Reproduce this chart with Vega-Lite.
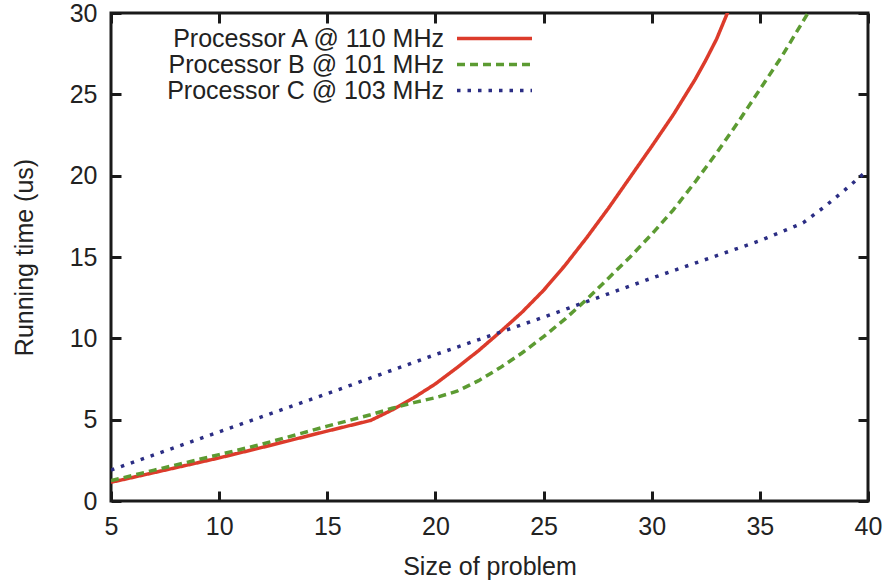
{
  "$schema": "https://vega.github.io/schema/vega-lite/v6.json",
  "width": 757,
  "height": 488,
  "autosize": "none",
  "padding": {"left": 111, "top": 13, "right": 20, "bottom": 80},
  "background": "white",
  "config": {
    "font": "Liberation Sans",
    "view": {"stroke": "#1a1a1a", "strokeWidth": 3},
    "axis": {
      "domain": false,
      "grid": false,
      "ticks": true,
      "tickSize": -10,
      "tickWidth": 3,
      "tickColor": "#1a1a1a",
      "labelFontSize": 25,
      "labelColor": "#222222",
      "labelFlush": false,
      "labelPadding": 23,
      "titleFontSize": 25,
      "titleFontWeight": "normal",
      "titleColor": "#222222"
    }
  },
  "data": {
    "values": [
      {"series": "Processor A @ 110 MHz", "size": 5, "time": 1.15},
      {"series": "Processor A @ 110 MHz", "size": 7, "time": 1.75},
      {"series": "Processor A @ 110 MHz", "size": 10, "time": 2.65},
      {"series": "Processor A @ 110 MHz", "size": 12, "time": 3.3},
      {"series": "Processor A @ 110 MHz", "size": 15, "time": 4.3},
      {"series": "Processor A @ 110 MHz", "size": 17, "time": 4.95},
      {"series": "Processor A @ 110 MHz", "size": 18, "time": 5.6},
      {"series": "Processor A @ 110 MHz", "size": 19, "time": 6.35},
      {"series": "Processor A @ 110 MHz", "size": 20, "time": 7.2},
      {"series": "Processor A @ 110 MHz", "size": 21, "time": 8.2},
      {"series": "Processor A @ 110 MHz", "size": 22, "time": 9.25},
      {"series": "Processor A @ 110 MHz", "size": 23, "time": 10.4},
      {"series": "Processor A @ 110 MHz", "size": 24, "time": 11.6},
      {"series": "Processor A @ 110 MHz", "size": 25, "time": 12.95},
      {"series": "Processor A @ 110 MHz", "size": 26, "time": 14.5},
      {"series": "Processor A @ 110 MHz", "size": 27, "time": 16.2},
      {"series": "Processor A @ 110 MHz", "size": 28, "time": 18.0},
      {"series": "Processor A @ 110 MHz", "size": 29, "time": 19.9},
      {"series": "Processor A @ 110 MHz", "size": 30, "time": 21.8},
      {"series": "Processor A @ 110 MHz", "size": 31, "time": 23.75},
      {"series": "Processor A @ 110 MHz", "size": 32, "time": 25.9},
      {"series": "Processor A @ 110 MHz", "size": 32.5, "time": 27.1},
      {"series": "Processor A @ 110 MHz", "size": 33, "time": 28.4},
      {"series": "Processor A @ 110 MHz", "size": 33.5, "time": 30.0},
      {"series": "Processor A @ 110 MHz", "size": 34, "time": 31.6},
      {"series": "Processor B @ 101 MHz", "size": 5, "time": 1.25},
      {"series": "Processor B @ 101 MHz", "size": 7, "time": 1.9},
      {"series": "Processor B @ 101 MHz", "size": 10, "time": 2.85},
      {"series": "Processor B @ 101 MHz", "size": 12, "time": 3.5},
      {"series": "Processor B @ 101 MHz", "size": 15, "time": 4.6},
      {"series": "Processor B @ 101 MHz", "size": 17, "time": 5.3},
      {"series": "Processor B @ 101 MHz", "size": 18, "time": 5.7},
      {"series": "Processor B @ 101 MHz", "size": 19, "time": 6.05},
      {"series": "Processor B @ 101 MHz", "size": 20, "time": 6.35},
      {"series": "Processor B @ 101 MHz", "size": 21, "time": 6.75},
      {"series": "Processor B @ 101 MHz", "size": 22, "time": 7.4},
      {"series": "Processor B @ 101 MHz", "size": 23, "time": 8.2},
      {"series": "Processor B @ 101 MHz", "size": 24, "time": 9.1},
      {"series": "Processor B @ 101 MHz", "size": 25, "time": 10.1},
      {"series": "Processor B @ 101 MHz", "size": 26, "time": 11.2},
      {"series": "Processor B @ 101 MHz", "size": 27, "time": 12.4},
      {"series": "Processor B @ 101 MHz", "size": 28, "time": 13.7},
      {"series": "Processor B @ 101 MHz", "size": 29, "time": 15.0},
      {"series": "Processor B @ 101 MHz", "size": 30, "time": 16.4},
      {"series": "Processor B @ 101 MHz", "size": 31, "time": 17.9},
      {"series": "Processor B @ 101 MHz", "size": 32, "time": 19.6},
      {"series": "Processor B @ 101 MHz", "size": 33, "time": 21.4},
      {"series": "Processor B @ 101 MHz", "size": 34, "time": 23.3},
      {"series": "Processor B @ 101 MHz", "size": 35, "time": 25.3},
      {"series": "Processor B @ 101 MHz", "size": 36, "time": 27.3},
      {"series": "Processor B @ 101 MHz", "size": 37, "time": 29.5},
      {"series": "Processor B @ 101 MHz", "size": 37.5, "time": 30.6},
      {"series": "Processor C @ 103 MHz", "size": 5, "time": 1.9},
      {"series": "Processor C @ 103 MHz", "size": 10, "time": 4.25},
      {"series": "Processor C @ 103 MHz", "size": 15, "time": 6.6},
      {"series": "Processor C @ 103 MHz", "size": 20, "time": 9.0},
      {"series": "Processor C @ 103 MHz", "size": 25, "time": 11.3},
      {"series": "Processor C @ 103 MHz", "size": 30, "time": 13.7},
      {"series": "Processor C @ 103 MHz", "size": 35, "time": 16.0},
      {"series": "Processor C @ 103 MHz", "size": 37, "time": 17.1},
      {"series": "Processor C @ 103 MHz", "size": 38, "time": 18.1},
      {"series": "Processor C @ 103 MHz", "size": 39, "time": 19.2},
      {"series": "Processor C @ 103 MHz", "size": 40, "time": 20.35}
    ]
  },
  "layer": [
    {
      "mark": {"type": "line", "strokeWidth": 3.5, "clip": true},
      "encoding": {
        "x": {
          "field": "size", "type": "quantitative",
          "scale": {"domain": [5, 40], "nice": false, "zero": false},
          "axis": {"orient": "bottom", "values": [5, 10, 15, 20, 25, 30, 35, 40], "title": "Size of problem", "titlePadding": 15}
        },
        "y": {
          "field": "time", "type": "quantitative",
          "scale": {"domain": [0, 30], "nice": false},
          "axis": {"orient": "left", "values": [0, 5, 10, 15, 20, 25, 30], "title": "Running time (us)", "titlePadding": 32, "labelPadding": 24}
        },
        "color": {
          "field": "series", "type": "nominal",
          "scale": {"range": ["#dc3b2b", "#5c9b32", "#2b2d84"]},
          "legend": {
            "title": null, "orient": "none", "legendX": 371, "legendY": 13,
            "symbolType": "M-3.75,0H3.75", "symbolSize": 400, "symbolStrokeWidth": 3.5,
            "labelFontSize": 25, "labelColor": "#222222", "labelAlign": "right", "labelOffset": -63,
            "labelLimit": 0, "rowPadding": 0, "padding": 0
          }
        },
        "strokeDash": {
          "field": "series", "type": "nominal",
          "scale": {"range": [[1, 0], [8, 5], [3.5, 7]]},
          "legend": {
            "title": null, "orient": "none", "legendX": 371, "legendY": 13,
            "symbolType": "M-3.75,0H3.75", "symbolSize": 400, "symbolStrokeWidth": 3.5,
            "labelFontSize": 25, "labelColor": "#222222", "labelAlign": "right", "labelOffset": -63,
            "labelLimit": 0, "rowPadding": 0, "padding": 0
          }
        }
      }
    },
    {
      "mark": {"type": "line", "opacity": 0},
      "encoding": {
        "x": {
          "field": "size", "type": "quantitative",
          "scale": {"domain": [5, 40], "nice": false, "zero": false},
          "axis": {"orient": "top", "values": [5, 10, 15, 20, 25, 30, 35, 40], "labels": false, "title": null}
        },
        "y": {
          "field": "time", "type": "quantitative",
          "scale": {"domain": [0, 30], "nice": false},
          "axis": {"orient": "right", "values": [0, 5, 10, 15, 20, 25, 30], "labels": false, "title": null}
        },
        "detail": {"field": "series"}
      }
    }
  ],
  "resolve": {"axis": {"x": "independent", "y": "independent"}}
}
